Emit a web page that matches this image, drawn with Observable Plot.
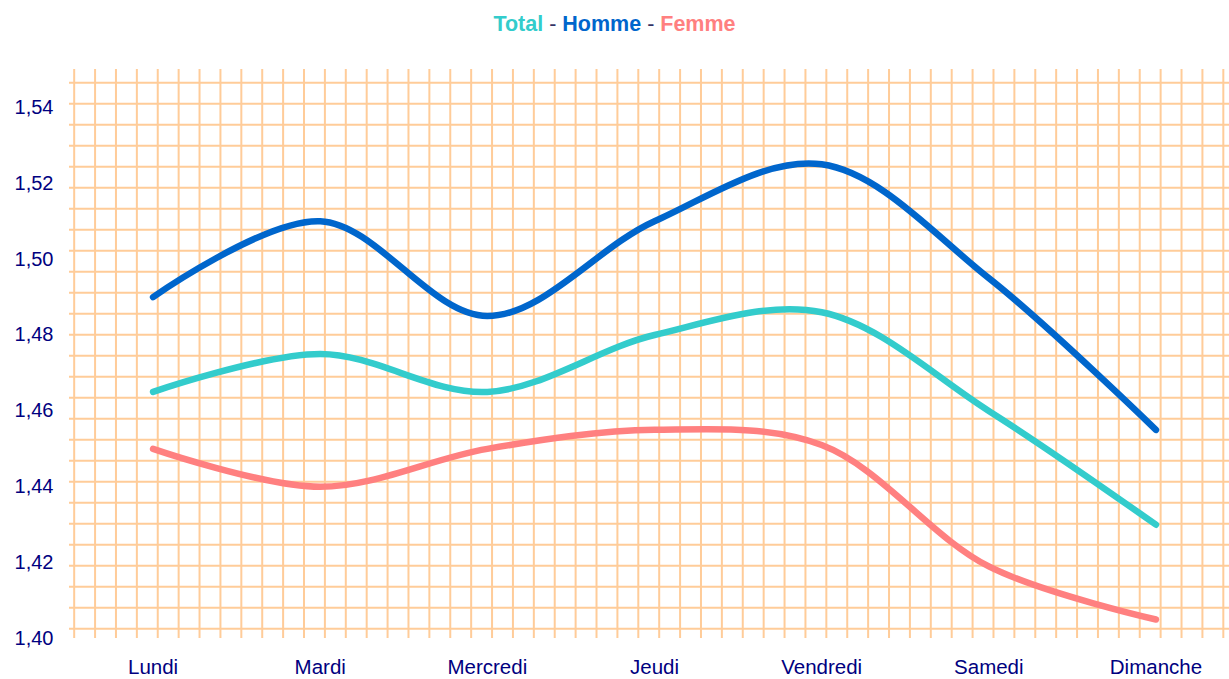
<!DOCTYPE html>
<html>
<head>
<meta charset="utf-8">
<script src="https://cdn.jsdelivr.net/npm/d3@7"></script>
<script src="https://cdn.jsdelivr.net/npm/@observablehq/plot@0.6"></script>
<style>
  html, body { margin: 0; padding: 0; background: #fff; }
  body { width: 1229px; height: 679px; overflow: hidden; font-family: "Liberation Sans", Arial, sans-serif; }
  #title { box-sizing: border-box; height: 44px; padding-top: 4px; line-height: 40px; text-align: center; font-size: 21.5px; font-weight: bold; color: #333366; }
  #title .sep { font-weight: normal; }
  #chart svg { display: block; }
</style>
</head>
<body>
<div id="title"><span style="color:#33CCCC">Total</span><span class="sep"> - </span><span style="color:#0066CC">Homme</span><span class="sep"> - </span><span style="color:#FF8080">Femme</span></div>
<div id="chart"></div>
<script>
const days = ["Lundi", "Mardi", "Mercredi", "Jeudi", "Vendredi", "Samedi", "Dimanche"];
const homme = [1.490, 1.510, 1.485, 1.510, 1.525, 1.495, 1.455];
const total = [1.465, 1.475, 1.465, 1.480, 1.486, 1.460, 1.430];
const femme = [1.450, 1.440, 1.450, 1.455, 1.451, 1.419, 1.405];
const yTicks = [1.40, 1.42, 1.44, 1.46, 1.48, 1.50, 1.52, 1.54];

const seriesNames = ["Femme", "Total", "Homme"];
const seriesValues = {Femme: femme, Total: total, Homme: homme};
const seriesColors = {Total: "#33CCCC", Homme: "#0066CC", Femme: "#FF8080"};

const rows = seriesNames.flatMap(s => seriesValues[s].map((v, i) => ({serie: s, i, day: days[i], value: v})));

// decorative "graph paper" background (spacing in data units)
const xDom = [-0.5, 6.44];
const yDom = [1.40, 1.55];
const vGrid = d3.range(0, 56).map(k => -0.472 + k * 0.125);
const hGrid = d3.range(0, 27).map(k => 1.4026 + k * 0.005536);

const fmt = v => d3.format(".2f")(v).replace(".", ",");

const chart = Plot.plot({
  width: 1229,
  height: 635,
  marginTop: 25,
  marginBottom: 41,
  marginLeft: 69,
  marginRight: 0,
  style: {fontFamily: "'Liberation Sans', Arial, sans-serif", fontSize: "20px", color: "#000080", background: "#fff"},
  x: {domain: xDom, label: null},
  y: {domain: yDom, label: null},
  marks: [
    Plot.ruleY(hGrid, {y: d => d, x1: xDom[0], x2: xDom[1], stroke: "#FFCC99", strokeWidth: 2}),
    Plot.ruleX(vGrid, {x: d => d, y1: yDom[0], y2: yDom[1], stroke: "#FFCC99", strokeWidth: 2}),
    Plot.axisY(yTicks, {tickSize: 0, tickPadding: 16, tickFormat: fmt, fill: "#000080", fontSize: 20, label: null}),
    Plot.axisX(d3.range(days.length), {tickSize: 0, tickPadding: 21, tickFormat: i => days[i], fill: "#000080", fontSize: 20.5, label: null}),
    ...seriesNames.map(s => Plot.line(rows.filter(r => r.serie === s), {
      x: "i", y: "value", curve: "catmull-rom",
      stroke: seriesColors[s], strokeWidth: 6.5, strokeLinecap: "round", strokeLinejoin: "round"
    }))
  ]
});
document.getElementById("chart").appendChild(chart);
</script>
</body>
</html>
